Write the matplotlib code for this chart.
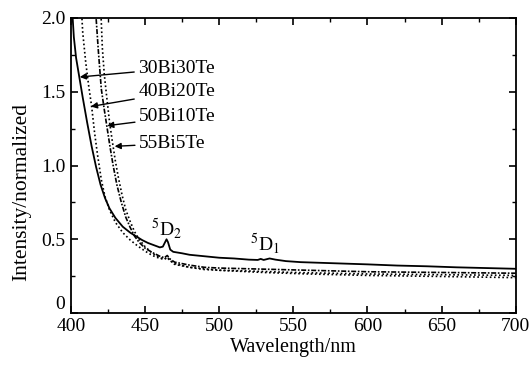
import matplotlib
matplotlib.use("Agg")
import matplotlib.pyplot as plt

plt.rcParams['font.family'] = ['Liberation Serif', 'DejaVu Serif']
plt.rcParams['mathtext.fontset'] = 'stix'

# 30Bi30Te (solid)
wl_30 = [400.6, 401.2, 402, 403.5, 406, 408, 411, 414, 417, 420, 423, 426, 430,
         435, 440, 444, 448, 452, 456, 460, 462, 463.5, 464.5, 465.5, 467, 469, 475,
         480, 490, 500, 510, 520, 526, 528, 530, 534, 538, 545, 555, 570, 585, 600, 620,
         640, 660, 680, 700]
int_30 = [2.10, 2.00, 1.87, 1.73, 1.58, 1.46, 1.29, 1.13, 0.99, 0.87, 0.78, 0.71, 0.645,
          0.585, 0.545, 0.52, 0.495, 0.475, 0.46, 0.445, 0.45, 0.48, 0.50, 0.48, 0.43, 0.415, 0.405,
          0.395, 0.385, 0.375, 0.37, 0.362, 0.36, 0.367, 0.36, 0.37, 0.362, 0.352, 0.345, 0.34, 0.335, 0.33, 0.322,
          0.317, 0.31, 0.305, 0.30]

# 40Bi20Te (dotted)
wl_40 = [407, 408, 410, 412, 414, 416, 418, 420.6, 423, 426, 430, 435, 440, 445, 450, 455,
         460, 463, 465, 467, 470, 480, 500, 530, 560, 600, 650, 700]
int_40 = [2.08, 1.90, 1.70, 1.54, 1.40, 1.22, 1.07, 0.90, 0.79, 0.70, 0.615, 0.545, 0.495, 0.455, 0.42, 0.39,
          0.37, 0.365, 0.38, 0.355, 0.33, 0.31, 0.29, 0.275, 0.265, 0.255, 0.248, 0.24]

# 50Bi10Te (dash-dot)
wl_50 = [416.6, 417, 418.5, 420.5, 422.5, 424.5, 426.5, 428.5, 431, 434, 437, 440, 443, 446,
         450, 455, 460, 463, 465, 467, 470, 480, 490, 500, 520, 540, 560, 600, 650, 700]
int_50 = [2.06, 2.00, 1.78, 1.52, 1.38, 1.25, 1.12, 1.00, 0.87, 0.75, 0.65, 0.58, 0.52, 0.48,
          0.44, 0.41, 0.385, 0.375, 0.39, 0.365, 0.345, 0.325, 0.31, 0.305, 0.30, 0.295, 0.29, 0.28, 0.275, 0.27]

# 55Bi5Te (dotted)
wl_55 = [420.2, 421.2, 422.5, 424, 426, 428, 430, 432, 434.5, 437, 440, 443, 446, 450, 455,
         460, 463, 465, 467, 470, 480, 490, 500, 520, 550, 600, 650, 700]
int_55 = [2.05, 1.80, 1.62, 1.48, 1.30, 1.16, 1.03, 0.92, 0.80, 0.70, 0.62, 0.55, 0.50, 0.45, 0.405,
          0.375, 0.365, 0.375, 0.355, 0.335, 0.31, 0.295, 0.29, 0.285, 0.275, 0.265, 0.26, 0.255]

labels = ['30Bi30Te', '40Bi20Te', '50Bi10Te', '55Bi5Te']
x_ticks = [400, 450, 500, 550, 600, 650, 700]
y_ticks = [0, 0.5, 1.0, 1.5, 2.0]
y_tick_labels = ['0', '0.5', '1.0', '1.5', '2.0']

fig = plt.figure(figsize=(5.29, 3.67), dpi=100)
ax = fig.add_axes([0.134, 0.147, 0.841, 0.804])

ax.plot(wl_30, int_30, color='black', lw=1.3, ls='-')
ax.plot(wl_40, int_40, color='black', lw=1.2, ls=(0, (1, 1.5)))
ax.plot(wl_50, int_50, color='black', lw=1.2, ls=(0, (3, 1, 1, 1)))
ax.plot(wl_55, int_55, color='black', lw=1.2, ls=(0, (1, 1.5)))

ax.set_xlim(400, 700)
ax.set_ylim(0, 2.0)
ax.set_xticks(x_ticks)
ax.set_xticks([425, 475, 525, 575, 625, 675], minor=True)
ax.set_yticks(y_ticks)
ax.set_yticklabels(y_tick_labels)
ax.set_yticks([0.25, 0.75, 1.25, 1.75], minor=True)
ax.tick_params(which='both', direction='in', top=True, right=True, labelsize=14)
ax.tick_params(which='major', length=5, width=1.2)
ax.tick_params(which='minor', length=3, width=1.0)
ax.tick_params(axis='y', pad=4)
for s in ax.spines.values():
    s.set_linewidth(1.3)
# the "0" label sits just above the corner, as in the reference
ax.get_yticklabels()[0].set_verticalalignment('bottom')

ax.set_xlabel('Wavelength/nm', fontsize=14.5, labelpad=2)
ax.set_ylabel('Intensity/normalized', fontsize=15.5)
ax.yaxis.set_label_coords(-0.09, 0.41)

# label arrows: text position (nm, intensity) -> tip on curve
label_xy = [(445.5, 1.66), (445.5, 1.50), (446, 1.33), (446, 1.15)]
tip_xy = [(406, 1.60), (413.5, 1.40), (424.5, 1.27), (429.5, 1.13)]
for lab, txy, pxy in zip(labels, label_xy, tip_xy):
    ax.annotate(lab, xy=pxy, xytext=txy, fontsize=14, va='center', ha='left',
                arrowprops=dict(arrowstyle='-|>', color='black', lw=1.0,
                                mutation_scale=9, shrinkA=1, shrinkB=0))

ax.text(464.5, 0.57, r'$^5$D$_2$', fontsize=14, ha='center', va='center')
ax.text(531, 0.47, r'$^5$D$_1$', fontsize=14, ha='center', va='center')

fig.savefig('out.png', dpi=100)
